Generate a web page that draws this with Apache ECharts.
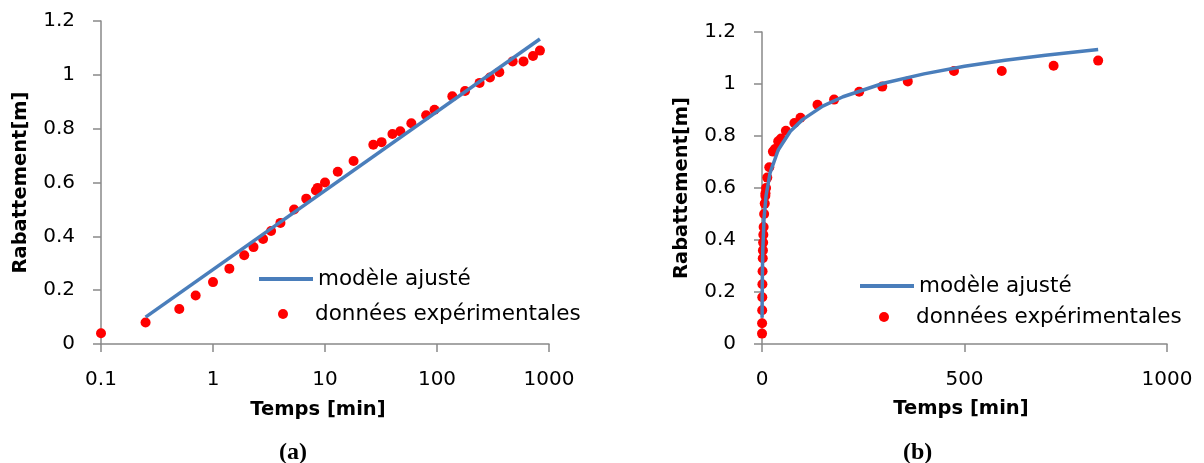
<html>
<head>
<meta charset="UTF-8">
<title>Rabattement</title>
<script src="https://cdn.jsdelivr.net/npm/echarts@6/dist/echarts.min.js"></script>
<style>
  body { margin: 0; background: #fff; }
  #main { width: 1204px; height: 463px; }
  .cap { position: absolute; top: 438px; font: bold 24px "Liberation Serif", serif; color: #000; }
</style>
</head>
<body>
<div id="main"></div>
<div class="cap" style="left:279px">(a)</div>
<div class="cap" style="left:903px">(b)</div>
<script type="text/javascript">
// temps [min] et rabattement [m]
var temps = [0.1, 0.25, 0.5, 0.7, 1, 1.4, 1.9, 2.3, 2.8, 3.3, 4, 5.3, 6.8, 8.3, 8.6, 10, 13, 18,
             27, 32, 40, 47, 59, 80, 95, 137, 178, 240, 297, 360, 474, 592, 720, 830];
var rabattement = [0.04, 0.08, 0.13, 0.18, 0.23, 0.28, 0.33, 0.36, 0.39, 0.42, 0.45, 0.50, 0.54, 0.57, 0.58, 0.60, 0.64, 0.68,
                   0.74, 0.75, 0.78, 0.79, 0.82, 0.85, 0.87, 0.92, 0.94, 0.97, 0.99, 1.01, 1.05, 1.05, 1.07, 1.09];
// modele ajuste : droite en semi-log (a), courbe en lineaire (b)
var tempsDroite = [0.25, 830];
var rabDroite = [0.10, 1.133];
var tempsCourbe = [0.25, 0.5, 1, 2, 5, 10, 20, 40, 70, 100, 150, 200, 300, 400, 500, 600, 700, 830];
var rabCourbe = [0.101, 0.189, 0.277, 0.365, 0.482, 0.570, 0.658, 0.746, 0.818, 0.863, 0.915, 0.951, 1.003, 1.039, 1.068, 1.091, 1.111, 1.133];

var nomLigne = 'modèle ajusté';
var nomPoints = 'données expérimentales';

var font = 'DejaVu Sans';
var axisGray = '#898989';
var bleu = '#4a7ebb';
var rouge = '#ff0000';

function paires(xs, ys) {
  var out = [];
  for (var i = 0; i < xs.length; i++) out.push([xs[i], ys[i]]);
  return out;
}
var pts = paires(temps, rabattement);

var lineAx = { show: true, lineStyle: { color: axisGray, width: 1.5 } };
var tickAx = { show: true, length: 8, lineStyle: { color: axisGray, width: 1.5 } };
var lblX = { color: '#000', fontFamily: font, fontSize: 20, lineHeight: 24, margin: 24,
             formatter: function (v) { return String(v); } };
var lblY = { color: '#000', fontFamily: font, fontSize: 20, margin: 26 };

function nameStyle(decal) {
  return { color: '#000', fontFamily: font, fontSize: 19.5, fontWeight: 'bold', lineHeight: 24,
           padding: [0, decal, 0, 0] };
}

function yAxe(idx) {
  return {
    type: 'value', gridIndex: idx, min: 0, max: 1.2, interval: 0.2,
    name: 'Rabattement[m]', nameLocation: 'middle', nameGap: 68,
    nameTextStyle: { color: '#000', fontFamily: font, fontSize: 19.5, fontWeight: 'bold', lineHeight: 24 },
    axisLine: lineAx, axisTick: tickAx, axisLabel: lblY, splitLine: { show: false }
  };
}

function legende(item, left, top) {
  return {
    data: [item], left: left, top: top, padding: 0, itemWidth: 54, itemHeight: 10,
    selectedMode: false,
    lineStyle: { width: 4, color: bleu },
    textStyle: { color: '#000', fontFamily: font, fontSize: 21.5, lineHeight: 24 }
  };
}
// pas de marqueur au milieu du trait de legende
var itemLigne = { name: nomLigne, itemStyle: { color: 'rgba(0,0,0,0)', borderWidth: 0, opacity: 0 } };

var myChart = echarts.init(document.getElementById('main'));
var option = {
  animation: false,
  grid: [
    { left: 101, top: 21, width: 448, height: 323 },
    { left: 762, top: 32, width: 405, height: 312 }
  ],
  xAxis: [
    {
      type: 'log', logBase: 10, gridIndex: 0, min: 0.1, max: 1000,
      name: 'Temps [min]', nameLocation: 'middle', nameGap: 54, nameTextStyle: nameStyle(14),
      axisLine: lineAx, axisTick: tickAx, axisLabel: lblX,
      splitLine: { show: false }, minorTick: { show: false }
    },
    {
      type: 'value', gridIndex: 1, min: 0, max: 1000, interval: 500,
      name: 'Temps [min]', nameLocation: 'middle', nameGap: 50, nameTextStyle: nameStyle(7),
      axisLine: lineAx, axisTick: tickAx, axisLabel: lblX, splitLine: { show: false }
    }
  ],
  yAxis: [yAxe(0), yAxe(1)],
  legend: [
    legende(itemLigne, 257, 267),
    legende(nomPoints, 278, 302),
    legende(itemLigne, 858, 274),
    legende(nomPoints, 879, 305)
  ],
  series: [
    { name: nomLigne, type: 'line', xAxisIndex: 0, yAxisIndex: 0, data: paires(tempsDroite, rabDroite),
      symbol: 'none', lineStyle: { color: bleu, width: 3.5 }, itemStyle: { color: bleu } },
    { name: nomPoints, type: 'scatter', xAxisIndex: 0, yAxisIndex: 0, data: pts,
      symbolSize: 10, itemStyle: { color: rouge, opacity: 1 } },
    { name: nomLigne, type: 'line', xAxisIndex: 1, yAxisIndex: 1, data: paires(tempsCourbe, rabCourbe),
      symbol: 'none', lineStyle: { color: bleu, width: 3.5 }, itemStyle: { color: bleu } },
    { name: nomPoints, type: 'scatter', xAxisIndex: 1, yAxisIndex: 1, data: pts,
      symbolSize: 10, itemStyle: { color: rouge, opacity: 1 } }
  ]
};
myChart.setOption(option);
</script>
</body>
</html>
